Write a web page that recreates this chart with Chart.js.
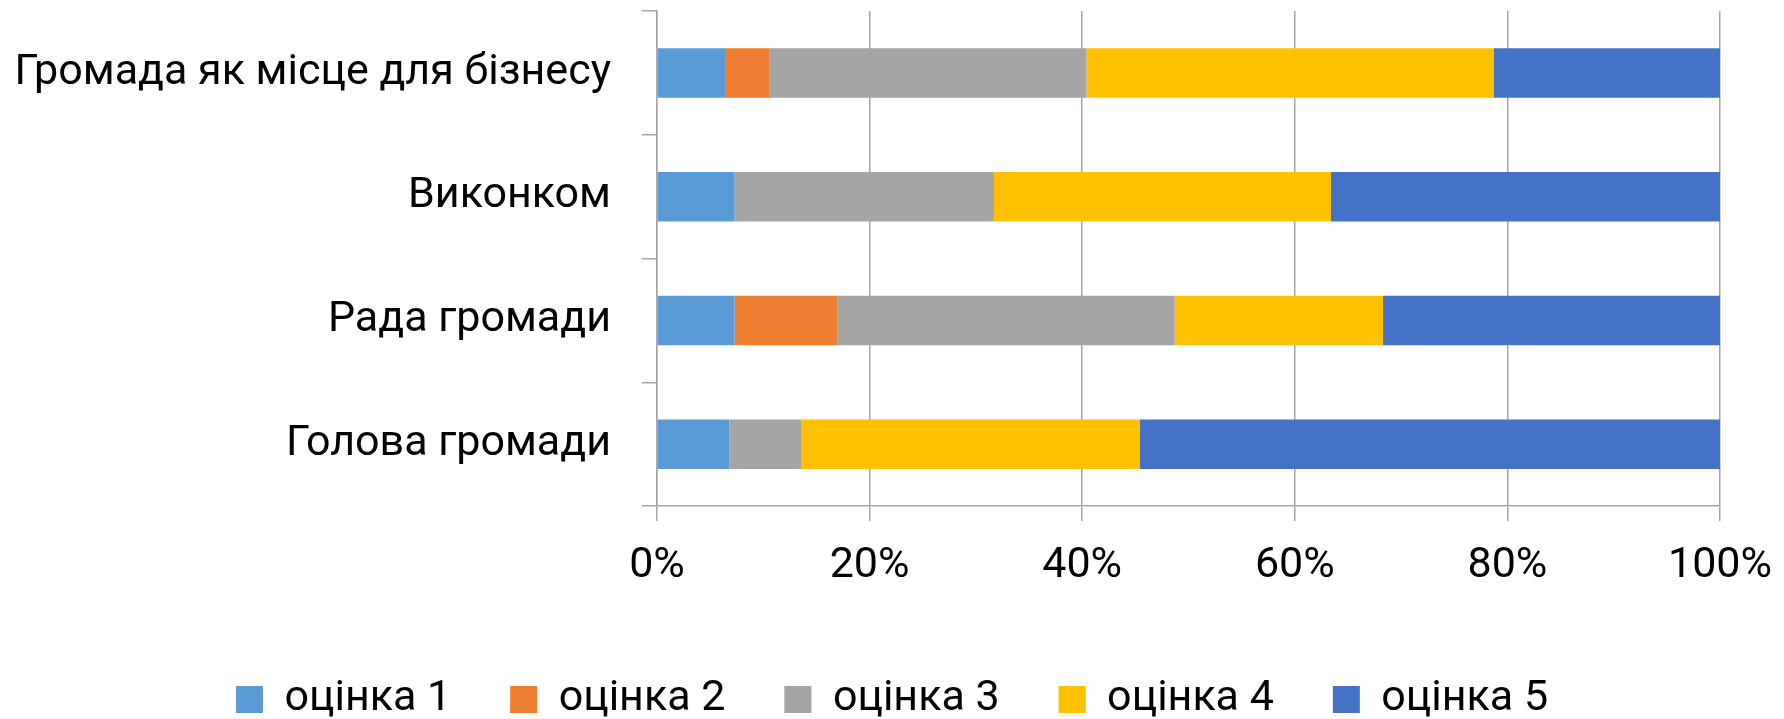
<!DOCTYPE html>
<html>
<head>
<meta charset="utf-8">
<script src="https://cdn.jsdelivr.net/npm/chart.js@4"></script>
<style>
  body { margin: 0; background: #fff; }
  #canvasDiv { width: 1784px; height: 719px; }
</style>
</head>
<body>
<div id="canvasDiv"><canvas id="myChart" width="1784" height="719"></canvas></div>
<script>
// categories, top to bottom
let categories = ['Громада як місце для бізнесу', 'Виконком', 'Рада громади', 'Голова громади'];
let seriesNames = ['оцінка 1', 'оцінка 2', 'оцінка 3', 'оцінка 4', 'оцінка 5'];
// shares in %
let score1 = [6.4, 7.3, 7.3, 6.8];
let score2 = [4.2, 0, 9.7, 0];
let score3 = [29.8, 24.4, 31.7, 6.8];
let score4 = [38.3, 31.7, 19.6, 31.8];
let score5 = [21.3, 36.6, 31.7, 54.6];
let xTicks = [0, 20, 40, 60, 80, 100];

let colors = ['#5B9BD5', '#ED7D31', '#A5A5A5', '#FFC000', '#4472C4'];
let gridColor = '#a6a6a6';

Chart.defaults.font.family = 'Roboto, "Noto Sans", sans-serif';
Chart.defaults.font.size = 43;
Chart.defaults.color = '#000';

let ctx = document.getElementById('myChart').getContext('2d');
let myBarChart;

function createChart() {
    let values = [score1, score2, score3, score4, score5];
    let datasets = [];
    for (let i = 0; i < values.length; i++) {
        datasets.push({
            label: seriesNames[i],
            data: values[i],
            backgroundColor: colors[i],
            borderWidth: 0,
            barPercentage: 0.4,
            categoryPercentage: 1
        });
    }

    myBarChart = new Chart(ctx, {
        type: 'bar',
        data: {
            labels: categories,
            datasets: datasets
        },
        options: {
            indexAxis: 'y',
            responsive: false,
            animation: false,
            layout: {
                padding: { left: 0, right: 0, top: 11, bottom: -12 }
            },
            scales: {
                x: {
                    stacked: true,
                    min: 0,
                    max: 100,
                    afterBuildTicks: function (scale) {
                        scale.ticks = xTicks.map(v => ({ value: v }));
                    },
                    afterFit: function (scale) {
                        // fixed room under the axis, empty strip on the right
                        scale.height = 113;
                        scale.paddingLeft = 0;
                        scale.paddingRight = 64;
                    },
                    ticks: {
                        padding: 19,
                        maxRotation: 0,
                        callback: function (v) { return v + '%'; }
                    },
                    grid: {
                        color: gridColor,
                        lineWidth: 1.5,
                        tickLength: 15
                    },
                    border: { color: gridColor, width: 1.5 }
                },
                y: {
                    stacked: true,
                    afterFit: function (scale) {
                        scale.width = 657;
                        scale.paddingTop = 0;
                        scale.paddingBottom = 0;
                    },
                    ticks: { padding: 31 },
                    grid: {
                        offset: true,
                        drawOnChartArea: false,
                        color: gridColor,
                        lineWidth: 1.5,
                        tickLength: 15
                    },
                    border: { color: gridColor, width: 1.5 }
                }
            },
            plugins: {
                legend: {
                    position: 'bottom',
                    labels: {
                        boxWidth: 27,
                        boxHeight: 27,
                        padding: 59
                    }
                },
                tooltip: { enabled: false }
            }
        }
    });
}

createChart();
</script>
</body>
</html>
